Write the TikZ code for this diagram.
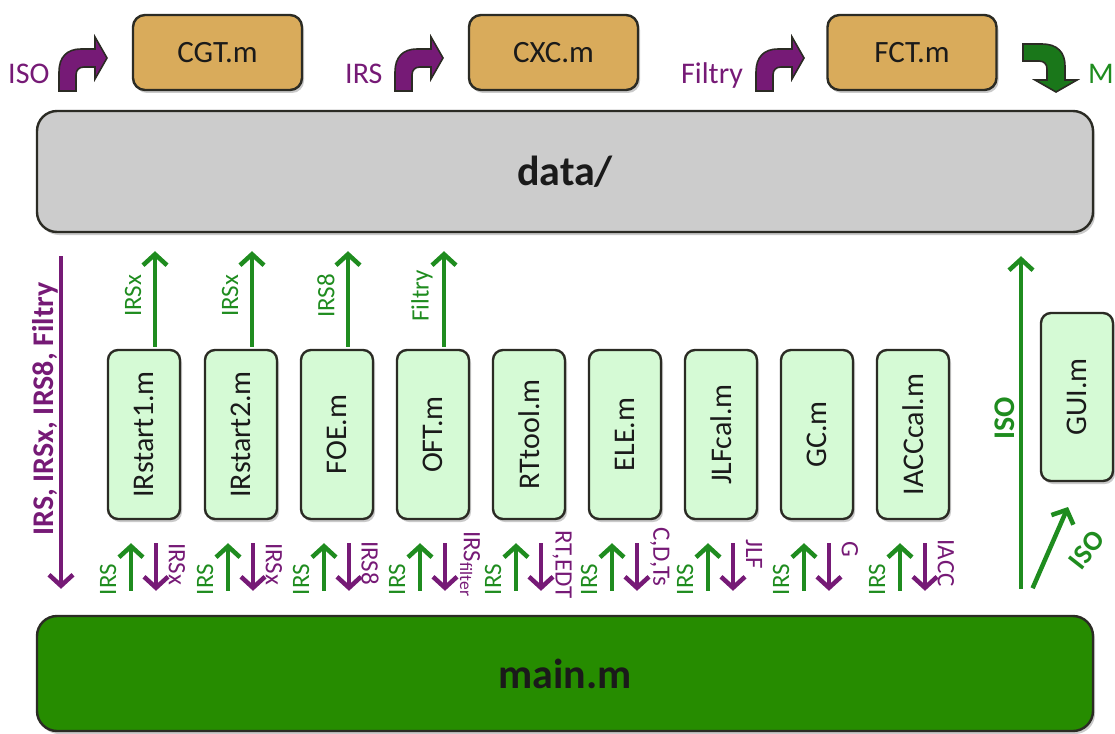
\documentclass[tikz,border=0pt]{standalone}
\usepackage{fontspec}
\setmainfont{Carlito}
\usetikzlibrary{calc,shadows,arrows.meta}

\definecolor{boxline}{HTML}{2B2B24}
\definecolor{tanfill}{HTML}{D9AB5B}
\definecolor{modfill}{HTML}{D5FAD5}
\definecolor{datafill}{HTML}{CCCCCC}
\definecolor{mainfill}{HTML}{268C00}
\definecolor{purp}{HTML}{761A76}
\definecolor{grn}{HTML}{1F8C1F}
\definecolor{txtdark}{HTML}{1A1A1A}

\newcommand\fsz[1]{\fontsize{#1}{#1}\selectfont}

\tikzset{
  softshadow/.style={drop shadow={shadow xshift=2pt,shadow yshift=-3pt,opacity=.35,fill=black!60}},
  boxbase/.style={draw=boxline,line width=2.4pt,text=txtdark,softshadow},
  topbox/.style={boxbase,fill=tanfill,rounded corners=12pt,minimum width=169pt,minimum height=75pt,font=\fsz{31}},
  modbox/.style={boxbase,fill=modfill,rounded corners=10pt,minimum width=72pt,minimum height=169pt,font=\fsz{30}},
  widebox/.style={boxbase,rounded corners=20pt,minimum width=1056pt,font=\bfseries\fsz{42}},
  garrow/.style={draw=grn,line width=4.5pt,-{Straight Barb[length=11pt,width=24pt]}},
  parrow/.style={draw=purp,line width=4.5pt,-{Straight Barb[length=11pt,width=24pt]}},
  glab/.style={text=grn,font=\fsz{25},inner sep=0pt},
  plab/.style={text=purp,font=\fsz{25},inner sep=0pt},
  toplab/.style={font=\fsz{30},inner sep=0pt},
  bentarrow/.pic={
    \path[pic actions] (0,0) -- (0,-19) .. controls (0,-34) and (8,-42) .. (22,-42)
      -- (36,-42) -- (36,-54) -- (48,-33) -- (36,-12) -- (36,-24) -- (25,-24)
      .. controls (20,-24) and (17,-21) .. (17,-16) -- (17,0) -- cycle;
  },
  bentstyle/.style={draw=boxline,line width=1.6pt,line join=miter,softshadow}
}

\begin{document}
\begin{tikzpicture}[x=1pt,y=-1pt]
\useasboundingbox (0,0) rectangle (1115,733);

% top row: scripts writing into data/
\node[topbox] (cgt) at (217.5,52.5) {CGT.m};
\node[topbox] (cxc) at (553.5,52.5) {CXC.m};
\node[topbox] (fct) at (912,52.5) {FCT.m};

\node[toplab,text=purp,anchor=base west] (liso) at (8,84) {ISO};
\node[toplab,text=purp,anchor=base west] (lirs) at (345,84) {IRS};
\node[toplab,text=purp,anchor=base west] (lfil) at (681,84) {Filtry};
\node[toplab,text=grn,anchor=base west] (lm) at (1088,84) {M};

\pic[bentstyle,fill=purp] at (59,91) {bentarrow};
\pic[bentstyle,fill=purp] at (395,91) {bentarrow};
\pic[bentstyle,fill=purp] at (756,91) {bentarrow};
\pic[bentstyle,fill=grn!85!black,rotate=-90] at (1023,44) {bentarrow};

% shared storage and main program
\node[widebox,fill=datafill,minimum height=121pt] (data) at (565,171.5) {data/};
\node[widebox,fill=mainfill,minimum height=115pt] (main) at (565,673.5) {main.m};

% modules
\node[modbox] (m1) at (144,434.5) {\rotatebox{90}{IRstart1.m}};
\node[modbox] (m2) at (241,434.5) {\rotatebox{90}{IRstart2.m}};
\node[modbox] (m3) at (337,434.5) {\rotatebox{90}{FOE.m}};
\node[modbox] (m4) at (433,434.5) {\rotatebox{90}{OFT.m}};
\node[modbox] (m5) at (529,434.5) {\rotatebox{90}{RTtool.m}};
\node[modbox] (m6) at (625,434.5) {\rotatebox{90}{ELE.m}};
\node[modbox] (m7) at (721,434.5) {\rotatebox{90}{JLFcal.m}};
\node[modbox] (m8) at (817,434.5) {\rotatebox{90}{GC.m}};
\node[modbox] (m9) at (913,434.5) {\rotatebox{90}{IACCcal.m}};
\node[modbox,minimum height=168pt] (gui) at (1077,397) {\rotatebox{90}{GUI.m}};

% module <-> main.m exchanges
\foreach \i in {1,...,9}{
  \coordinate (bu\i) at ($(m\i.south)+(-13,0)$);
  \coordinate (bd\i) at ($(m\i.south)+(12,0)$);
  \draw[garrow,shorten <=24pt,shorten >=23pt] (bu\i |- main.north) -- (bu\i);
  \draw[parrow,shorten <=23pt,shorten >=24pt] (bd\i) -- (bd\i |- main.north);
  \node[glab,rotate=90,anchor=west] (gl\i) at ($(m\i.south)+(-36,75)$) {IRS};
}

% results returned to main.m
\node[plab,rotate=-90,anchor=west] (pl1) at ($(m1.south)+(33,23)$) {IRSx};
\node[plab,rotate=-90,anchor=west] (pl2) at ($(m2.south)+(33,23)$) {IRSx};
\node[plab,rotate=-90,anchor=west] (pl3) at ($(m3.south)+(33,21)$) {IRS8};
\node[plab,rotate=-90,anchor=west] (pl4) at ($(m4.south)+(37,11)$) {IRS\textsubscript{filter}};
\node[plab,rotate=-90,anchor=west] (pl5) at ($(m5.south)+(33,10)$) {RT,EDT};
\node[plab,rotate=-90,anchor=west] (pl6) at ($(m6.south)+(35,7)$) {C,D,Ts};
\node[plab,rotate=-90,anchor=west] (pl7) at ($(m7.south)+(33,19)$) {JLF};
\node[plab,rotate=-90,anchor=west] (pl8) at ($(m8.south)+(33,21)$) {G};
\node[plab,rotate=-90,anchor=west] (pl9) at ($(m9.south)+(33,19)$) {IACC};

% modules writing into data/
\foreach \i/\t in {1/IRSx,2/IRSx,3/IRS8,4/Filtry}{
  \coordinate (tu\i) at ($(m\i.north)+(11,0)$);
  \draw[garrow,shorten <=2pt,shorten >=18pt] (tu\i) -- (tu\i |- data.south);
  \node[glab,rotate=90] (tl\i) at ($(m\i.north)+(-11,-53)$) {\t};
}

% data/ -> main.m
\coordinate (lx) at (61,0);
\draw[parrow,shorten <=23pt,shorten >=26pt] (lx |- data.south) -- (lx |- main.north);
\node[text=purp,font=\bfseries\fsz{30},rotate=90,inner sep=0pt] (lbig) at (45,409) {IRS, IRSx, IRS8, Filtry};

% main.m -> data/ and GUI.m
\coordinate (rx) at (1021,0);
\coordinate (dtip) at (1068,507);
\draw[garrow,shorten <=26pt,shorten >=23pt] (rx |- main.north) -- (rx |- data.south);
\draw[garrow,shorten <=29pt] (rx |- main.north) -- (dtip);
\node[text=grn,font=\bfseries\fsz{30},rotate=90,inner sep=0pt] (riso) at (1005,418) {ISO};
\node[text=grn,font=\bfseries\fsz{28},rotate=52,inner sep=0pt] (diso) at (1087,550) {ISO};
\end{tikzpicture}
\end{document}
